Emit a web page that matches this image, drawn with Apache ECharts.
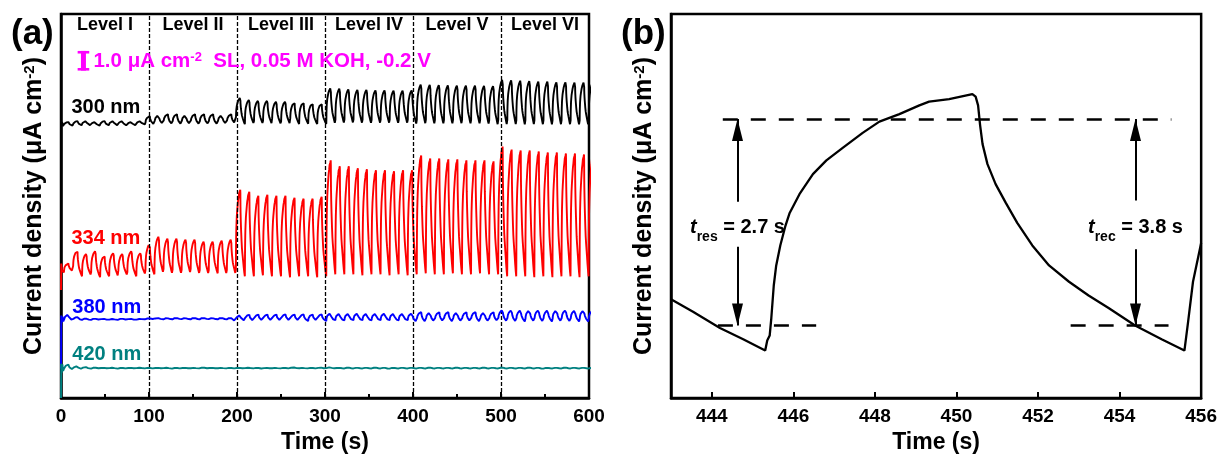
<!DOCTYPE html>
<html>
<head>
<meta charset="utf-8">
<script src="https://cdn.jsdelivr.net/npm/echarts@6/dist/echarts.min.js"></script>
<style>
  html, body { margin: 0; padding: 0; background: #ffffff; }
  #chart { width: 1220px; height: 459px; }
</style>
</head>
<body>
<div id="chart"></div>
<script>
// ---------- panel (a): photocurrent under chopped light, six intensity levels ----------
const levelNames   = ['Level I', 'Level II', 'Level III', 'Level IV', 'Level V', 'Level VI'];
const levelCenters = [50, 150, 250, 350, 450, 550];
const levelBounds  = [100, 200, 300, 400, 500];
const timeTicksA   = [0, 100, 200, 300, 400, 500, 600];

const wavelengths  = ['300 nm', '334 nm', '380 nm', '420 nm'];
const traceColors  = ['#000000', '#FF0000', '#0000FF', '#008080'];
const labelTimes   = [51, 51, 52, 52];
const labelLevels  = [14.8, 8.13, 4.63, 2.23];

// light chopping: on for onDuration, then off until the next onset
const firstOnset  = 3.3;
const lightPeriod = 10.28;
const onDuration  = 5.08;

// normalised shape of one on/off cycle (time after switching, fraction of swing)
const riseShape  = [[0, 0], [0.05, 0.04], [0.11, 0.06], [0.15, 0.13], [0.21, 0.26], [0.27, 0.33],
                    [0.37, 0.41], [0.49, 0.48], [0.6, 0.54], [0.84, 0.61], [1.17, 0.69], [1.5, 0.74],
                    [1.9, 0.79], [2.39, 0.85], [2.8, 0.89], [3.29, 0.92], [3.78, 0.96], [4.02, 0.97],
                    [4.51, 0.98], [5.08, 1]];
const decayShape = [[0, 1], [0.08, 0.99], [0.14, 0.96], [0.19, 0.88], [0.25, 0.8], [0.37, 0.73],
                    [0.57, 0.65], [0.82, 0.57], [1.1, 0.5], [1.47, 0.41], [1.88, 0.33], [2.37, 0.27],
                    [2.85, 0.22], [3.34, 0.17], [3.99, 0.1], [4.64, 0.04], [5.2, 0]];

// per-cycle peak currents and dark currents at each light onset (uA cm-2)
const peaks300 = [14.05, 14.1, 14.1, 14.05, 14.1, 14.1, 14.1, 14.05, 14.1,
                  14.35, 14.4, 14.45, 14.45, 14.4, 14.45, 14.45, 14.45, 14.4, 14.45,
                  15.3, 15.2, 15.15, 15.15, 15.1, 15.1, 15.05, 15.05, 15.0, 15.0,
                  15.8, 15.78, 15.75, 15.72, 15.72, 15.7, 15.7, 15.68, 15.68, 15.7,
                  16.0, 15.98, 15.97, 15.96, 15.95, 15.95, 15.94, 15.93, 15.92,
                  16.25, 16.22, 16.2, 16.18, 16.15, 16.15, 16.12, 16.12, 16.1, 16.1,
                  16.1];
const troughs300 = [13.87, 13.86, 13.88, 13.87, 13.86, 13.88, 13.87, 13.86, 13.88,
                    13.92, 13.91, 13.92, 13.93, 13.92, 13.91, 13.92, 13.93, 13.92, 13.92,
                    13.95, 13.94, 13.95, 13.96, 13.95, 13.94, 13.95, 13.95, 13.96, 13.95,
                    13.95, 13.94, 13.95, 13.96, 13.95, 13.94, 13.95, 13.95, 13.94, 13.95,
                    13.9, 13.91, 13.9, 13.9, 13.9, 13.91, 13.9, 13.9, 13.89,
                    13.86, 13.85, 13.85, 13.84, 13.85, 13.85, 13.84, 13.85, 13.85, 13.84,
                    13.85];
const start300 = [[0, 0], [0.25, 13.9], [1.2, 14.05], [2.2, 13.85]];

const peaks334 = [6.85, 7.5, 7.35, 7.5, 7.25, 7.4, 7.35, 7.5, 7.4,
                  7.85, 8.25, 8.15, 8.15, 8.1, 8.1, 8.0, 8.0, 8.05, 8.1,
                  10.6, 10.5, 10.3, 10.35, 10.3, 10.3, 10.2, 10.15, 10.15, 10.25,
                  12.1, 11.8, 11.8, 11.7, 11.65, 11.6, 11.6, 11.55, 11.6, 11.6,
                  12.35, 12.2, 12.2, 12.15, 12.15, 12.1, 12.1, 12.1, 12.05,
                  12.8, 12.65, 12.6, 12.6, 12.55, 12.5, 12.5, 12.45, 12.45, 12.4,
                  12.4];
const troughs334 = [6.4, 6.45, 6.2, 6.25, 6.15, 6.2, 6.2, 6.25, 6.2,
                    6.3, 6.3, 6.35, 6.3, 6.3, 6.35, 6.3, 6.3, 6.35, 6.3,
                    6.3, 6.2, 6.2, 6.25, 6.2, 6.2, 6.15, 6.2, 6.2, 6.15,
                    6.2, 6.3, 6.3, 6.3, 6.25, 6.3, 6.3, 6.25, 6.3, 6.25,
                    6.3, 6.35, 6.3, 6.3, 6.35, 6.3, 6.3, 6.35, 6.3,
                    6.3, 6.2, 6.2, 6.2, 6.15, 6.2, 6.15, 6.2, 6.2, 6.15,
                    6.2];
const start334 = [[0, 5.5], [0.3, 6.85], [1.0, 6.5], [2.0, 6.45]];

const peaks380 = [4.25, 4.12, 4.05, 4.04, 4.03, 4.03, 4.04, 4.03, 4.03,
                  4.06, 4.07, 4.07, 4.08, 4.07, 4.08, 4.08, 4.07, 4.08, 4.08,
                  4.22, 4.24, 4.25, 4.25, 4.25, 4.26, 4.25, 4.26, 4.25, 4.26,
                  4.31, 4.3, 4.3, 4.31, 4.3, 4.3, 4.31, 4.3, 4.3, 4.31,
                  4.38, 4.37, 4.37, 4.38, 4.37, 4.37, 4.38, 4.37, 4.37,
                  4.48, 4.47, 4.47, 4.48, 4.47, 4.47, 4.48, 4.47, 4.46, 4.47,
                  4.45];
const troughs380 = [3.85, 3.95, 3.98, 3.98, 3.99, 3.98, 3.98, 3.99, 3.98,
                    4.01, 4.02, 4.01, 4.01, 4.02, 4.01, 4.01, 4.02, 4.01, 4.01,
                    3.93, 3.93, 3.92, 3.93, 3.93, 3.92, 3.93, 3.93, 3.92, 3.93,
                    3.92, 3.92, 3.91, 3.92, 3.92, 3.91, 3.92, 3.92, 3.91, 3.92,
                    3.87, 3.87, 3.86, 3.87, 3.87, 3.86, 3.87, 3.87, 3.86,
                    3.88, 3.88, 3.87, 3.88, 3.88, 3.87, 3.88, 3.88, 3.87, 3.88,
                    3.88];
const start380 = [[0, 1.5], [0.3, 4.2], [1.0, 3.85], [1.8, 4.15], [2.6, 3.9]];

const peaks420 = [1.7, 1.62, 1.58, 1.55, 1.54, 1.55, 1.54, 1.54, 1.55,
                  1.54, 1.54, 1.55, 1.54, 1.54, 1.54, 1.55, 1.54, 1.54, 1.54,
                  1.54, 1.55, 1.54, 1.54, 1.54, 1.54, 1.56, 1.54, 1.54, 1.55,
                  1.57, 1.54, 1.55, 1.54, 1.54, 1.55, 1.54, 1.54, 1.54, 1.54,
                  1.54, 1.55, 1.54, 1.54, 1.55, 1.54, 1.54, 1.55, 1.54,
                  1.55, 1.54, 1.54, 1.55, 1.54, 1.54, 1.54, 1.55, 1.54, 1.54,
                  1.54];
const troughs420 = [1.4, 1.45, 1.48, 1.5, 1.51, 1.51, 1.5, 1.51, 1.51,
                    1.51, 1.51, 1.51, 1.5, 1.51, 1.51, 1.51, 1.51, 1.51, 1.51,
                    1.51, 1.51, 1.51, 1.5, 1.51, 1.51, 1.51, 1.51, 1.51, 1.51,
                    1.51, 1.51, 1.51, 1.51, 1.51, 1.51, 1.51, 1.5, 1.51, 1.51,
                    1.51, 1.51, 1.51, 1.51, 1.51, 1.51, 1.51, 1.51, 1.51,
                    1.51, 1.51, 1.51, 1.51, 1.51, 1.5, 1.51, 1.51, 1.51, 1.51,
                    1.51];
const start420 = [[0, 0], [0.3, 1.75], [0.9, 1.3], [1.6, 1.72], [2.4, 1.38]];

// 1.0 uA cm-2 scale bar and experiment note
const scaleBarTime  = 25.5;
const scaleBarRange = [16.67, 17.67];
const noteTime      = 36.3;
const noteLevel     = 17.13;
const levelLabelY   = 18.98;

// ---------- panel (b): one cycle of the 300 nm trace ----------
const zoomTime    = [443.0, 443.54, 444.2, 444.77, 445.31, 445.36, 445.42, 445.46, 445.52, 445.58,
                     445.68, 445.8, 445.91, 446.15, 446.48, 446.81, 447.21, 447.7, 448.11, 448.6,
                     449.09, 449.33, 449.82, 450.39, 450.47, 450.53, 450.58, 450.64, 450.76, 450.96,
                     451.21, 451.49, 451.86, 452.27, 452.76, 453.24, 453.73, 454.38, 455.03, 455.59,
                     455.68, 455.8, 456.0];
const zoomCurrent = [14.31, 14.21, 14.08, 13.99, 13.9, 13.98, 14.02, 14.16, 14.42, 14.58,
                     14.74, 14.89, 15.0, 15.15, 15.31, 15.42, 15.52, 15.64, 15.73, 15.79,
                     15.86, 15.89, 15.91, 15.95, 15.93, 15.86, 15.7, 15.55, 15.39, 15.23,
                     15.08, 14.92, 14.74, 14.58, 14.45, 14.34, 14.24, 14.1, 13.99, 13.9,
                     14.13, 14.45, 14.76];
const zoomTicks   = [444, 446, 448, 450, 452, 454, 456];

// 10 % / 90 % guide levels and their spans
const guideLines  = [[444.27, 455.27, 15.75], [444.15, 446.56, 14.1], [452.8, 455.2, 14.1]];
// arrows: time, tail, tip
const guideArrows = [[444.63, 15.09, 15.75], [444.63, 14.73, 14.1], [454.39, 15.1, 15.75], [454.39, 14.71, 14.1]];
const timeConstNames  = ['res', 'rec'];
const timeConstValues = ['2.7 s', '3.8 s'];
const timeConstPos    = [[444.63, 14.88], [454.39, 14.88]];

// ---------- helpers ----------
const FONT = "'Liberation Sans', Arial, Helvetica, sans-serif";

function buildTrace(startPts, peaks, troughs) {
  const pts = startPts.map(p => p.slice());
  for (let k = 0; k < peaks.length; k++) {
    const on = firstOnset + k * lightPeriod;
    const base0 = troughs[k], top = peaks[k], base1 = troughs[k + 1];
    riseShape.forEach(([dt, f]) => pts.push([on + dt, base0 + f * (top - base0)]));
    if (base1 === undefined) continue;
    decayShape.forEach(([dt, f], i) => {
      if (i === 0) return;
      pts.push([on + onDuration + dt, base1 + f * (top - base1)]);
    });
  }
  return pts;
}

const traces = [
  buildTrace(start300, peaks300, troughs300),
  buildTrace(start334, peaks334, troughs334),
  buildTrace(start380, peaks380, troughs380),
  buildTrace(start420, peaks420, troughs420)
];

const axisNameRich = {
  n: { fontSize: 25, fontWeight: 'bold', fontFamily: FONT, color: '#000', lineHeight: 28, verticalAlign: 'top' },
  s: { fontSize: 15, fontWeight: 'bold', fontFamily: FONT, color: '#000', lineHeight: 13, verticalAlign: 'top' }
};
const yName = '{n|Current density (\u03bcA cm}{s|-2}{n|)}';

const tickLabel = { fontSize: 19, fontWeight: 'bold', fontFamily: FONT, color: '#000', margin: 9 };
const axisLine = { show: true, lineStyle: { color: '#000', width: 2.5 } };
// invisible anchor points that carry text labels
const hiddenItem = { color: 'rgba(0,0,0,0)', opacity: 1 };

const chart = echarts.init(document.getElementById('chart'), null, { renderer: 'canvas' });

const traceSeries = traces.map((pts, i) => ({
  type: 'line', xAxisIndex: 0, yAxisIndex: 0, data: pts,
  showSymbol: false, symbol: 'none', silent: true,
  lineStyle: { color: traceColors[i], width: 1.9 },
  z: 3 + i
}));

// level boundaries as dashed verticals
traceSeries[0].markLine = {
  silent: true, symbol: 'none', label: { show: false },
  lineStyle: { color: '#000', type: [4, 2], width: 1.3 },
  data: levelBounds.map(v => ({ xAxis: v }))
};

const option = {
  animation: false,
  backgroundColor: '#ffffff',
  textStyle: { fontFamily: FONT },
  grid: [
    { left: 61, top: 14, width: 528, height: 391, show: true, borderColor: '#000', borderWidth: 2.5 },
    { left: 671, top: 14, width: 532, height: 391, show: true, borderColor: '#000', borderWidth: 2.5 }
  ],
  xAxis: [
    {
      gridIndex: 0, type: 'value', min: timeTicksA[0], max: timeTicksA[timeTicksA.length - 1], interval: 100,
      axisLine: axisLine,
      axisTick: { show: true, inside: true, length: 6, lineStyle: { color: '#000', width: 2 } },
      minorTick: { show: true, splitNumber: 2, length: 4, lineStyle: { color: '#000', width: 2 } },
      axisLabel: tickLabel, splitLine: { show: false },
      name: 'Time (s)', nameLocation: 'middle', nameGap: 25,
      nameTextStyle: { fontSize: 23, fontWeight: 'bold', fontFamily: FONT, color: '#000' }
    },
    {
      gridIndex: 1, type: 'value', min: 443, max: 456,
      axisLine: axisLine,
      axisTick: { show: true, inside: true, length: 6, lineStyle: { color: '#000', width: 2 }, customValues: zoomTicks },
      axisLabel: Object.assign({ customValues: zoomTicks }, tickLabel), splitLine: { show: false },
      name: 'Time (s)', nameLocation: 'middle', nameGap: 25,
      nameTextStyle: { fontSize: 23, fontWeight: 'bold', fontFamily: FONT, color: '#000' }
    }
  ],
  yAxis: [
    {
      gridIndex: 0, type: 'value', min: 0, max: 19.55,
      axisLine: axisLine, axisTick: { show: false }, axisLabel: { show: false }, splitLine: { show: false },
      name: yName, nameLocation: 'middle', nameGap: 11, nameRotate: 90,
      nameTextStyle: { rich: axisNameRich }
    },
    {
      gridIndex: 1, type: 'value', min: 13.52, max: 16.59,
      axisLine: axisLine, axisTick: { show: false }, axisLabel: { show: false }, splitLine: { show: false },
      name: yName, nameLocation: 'middle', nameGap: 11, nameRotate: 90,
      nameTextStyle: { rich: axisNameRich }
    }
  ],
  graphic: [
    { type: 'text', left: 11, top: 17, style: { text: '(a)', font: 'bold 35px ' + FONT, fill: '#000' } },
    { type: 'text', left: 621, top: 17, style: { text: '(b)', font: 'bold 35px ' + FONT, fill: '#000' } }
  ],
  series: traceSeries.concat([
    // level captions
    {
      type: 'scatter', xAxisIndex: 0, yAxisIndex: 0, silent: true, symbolSize: 1,
      itemStyle: hiddenItem,
      data: levelNames.map((n, i) => ({ value: [levelCenters[i], levelLabelY], name: n })),
      label: { show: true, position: 'inside', formatter: p => p.name,
               fontSize: 18, fontWeight: 'bold', fontFamily: FONT, color: '#000' },
      z: 10
    },
    // wavelength captions
    {
      type: 'scatter', xAxisIndex: 0, yAxisIndex: 0, silent: true, symbolSize: 1,
      itemStyle: hiddenItem,
      data: wavelengths.map((w, i) => ({
        value: [labelTimes[i], labelLevels[i]], name: w,
        label: { color: traceColors[i] }
      })),
      label: { show: true, position: 'inside', formatter: p => p.name,
               fontSize: 20, fontWeight: 'bold', fontFamily: FONT },
      z: 10
    },
    // scale bar
    {
      type: 'custom', xAxisIndex: 0, yAxisIndex: 0, silent: true,
      data: [[scaleBarTime, scaleBarRange[0], scaleBarRange[1]]],
      renderItem: (params, api) => {
        const top = api.coord([api.value(0), api.value(2)]);
        const bot = api.coord([api.value(0), api.value(1)]);
        const fill = '#FF00FF';
        return {
          type: 'group', children: [
            { type: 'rect', shape: { x: top[0] - 2.5, y: top[1], width: 5, height: bot[1] - top[1] }, style: { fill } },
            { type: 'rect', shape: { x: top[0] - 5.8, y: top[1], width: 11.6, height: 2.6 }, style: { fill } },
            { type: 'rect', shape: { x: top[0] - 5.8, y: bot[1] - 2.6, width: 11.6, height: 2.6 }, style: { fill } }
          ]
        };
      },
      z: 10
    },
    // experiment note
    {
      type: 'scatter', xAxisIndex: 0, yAxisIndex: 0, silent: true, symbolSize: 1,
      itemStyle: hiddenItem,
      data: [[noteTime, noteLevel]],
      label: {
        show: true, position: 'right', distance: 0,
        formatter: '{m|1.0 \u03bcA cm}{s|-2}{m|  SL, 0.05 M KOH, -0.2 V}',
        rich: {
          m: { fontSize: 20.5, fontWeight: 'bold', fontFamily: FONT, color: '#FF00FF', lineHeight: 22, verticalAlign: 'top' },
          s: { fontSize: 13, fontWeight: 'bold', fontFamily: FONT, color: '#FF00FF', lineHeight: 10, verticalAlign: 'top' }
        }
      },
      z: 10
    },
    // panel (b) trace
    {
      type: 'line', xAxisIndex: 1, yAxisIndex: 1, silent: true,
      data: zoomTime.map((t, i) => [t, zoomCurrent[i]]),
      showSymbol: false, symbol: 'none',
      lineStyle: { color: '#000', width: 2.3 }, z: 3
    },
    // guide levels and arrows
    {
      type: 'line', xAxisIndex: 1, yAxisIndex: 1, silent: true, data: [],
      markLine: {
        silent: true, symbol: 'none', label: { show: false },
        lineStyle: { color: '#000', type: [15, 13], width: 2.5 },
        data: guideLines.map(([a, b, v]) => [{ coord: [a, v] }, { coord: [b, v] }])
      }
    },
    {
      type: 'line', xAxisIndex: 1, yAxisIndex: 1, silent: true, data: [],
      markLine: {
        silent: true, symbol: ['none', 'triangle'], symbolSize: [11, 22],
        symbolOffset: [[0, 0], [0, 11]],
        label: { show: false },
        lineStyle: { color: '#000', type: 'solid', width: 2 },
        data: guideArrows.map(([t, a, b]) => [{ coord: [t, a] }, { coord: [t, b] }])
      }
    },
    {
      type: 'scatter', xAxisIndex: 1, yAxisIndex: 1, silent: true, symbolSize: 1,
      itemStyle: hiddenItem,
      data: timeConstPos.map((p, i) => ({ value: p, name: timeConstNames[i] })),
      label: {
        show: true, position: 'inside',
        formatter: p => '{t|t}{b|' + timeConstNames[p.dataIndex] + '}{m| = ' + timeConstValues[p.dataIndex] + '}',
        rich: {
          t: { fontSize: 20, fontWeight: 'bold', fontStyle: 'italic', fontFamily: FONT, color: '#000', lineHeight: 20, verticalAlign: 'top' },
          m: { fontSize: 20, fontWeight: 'bold', fontFamily: FONT, color: '#000', lineHeight: 20, verticalAlign: 'top' },
          b: { fontSize: 14, fontWeight: 'bold', fontFamily: FONT, color: '#000', lineHeight: 14, verticalAlign: 'top', padding: [12, 0, 0, 0] }
        }
      },
      z: 10
    }
  ])
};

chart.setOption(option);
</script>
</body>
</html>
